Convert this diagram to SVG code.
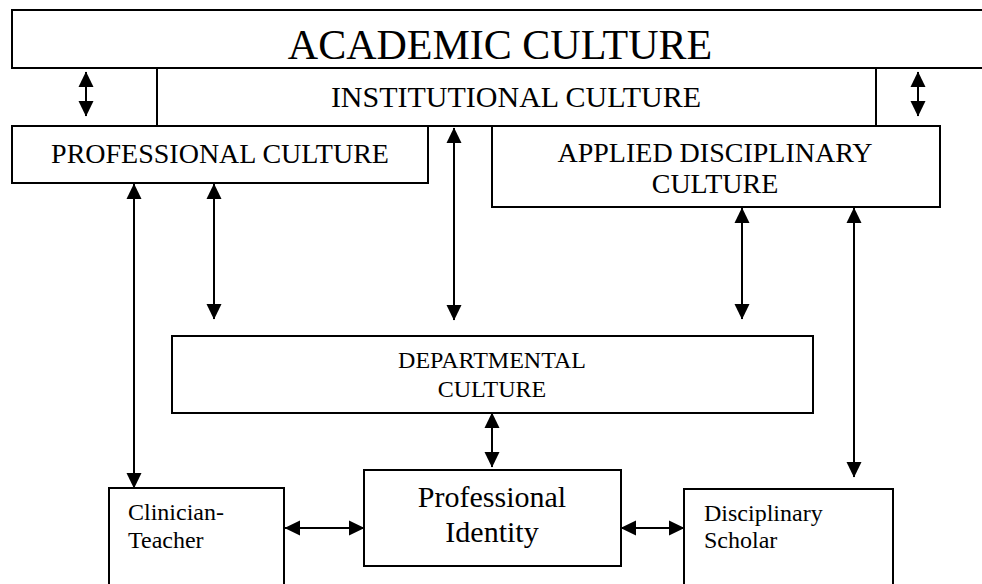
<svg xmlns="http://www.w3.org/2000/svg" width="982" height="584" viewBox="0 0 982 584">
<style>
.box{fill:#fff;stroke:#000;stroke-width:2}
.t{font-family:"Liberation Serif","Times New Roman",serif;fill:#000;text-anchor:middle}
.tl{font-family:"Liberation Serif","Times New Roman",serif;fill:#000}
.c{stroke:#000;stroke-width:2;fill:none;marker-start:url(#ah);marker-end:url(#ah)}
</style>
<defs>
<marker id="ah" markerUnits="userSpaceOnUse" markerWidth="16" markerHeight="16" viewBox="0 0 16 16" refX="15" refY="8" orient="auto-start-reverse">
<path d="M0,0.5 L15.5,8 L0,15.5 Z" fill="#000"/>
</marker>
</defs>
<rect width="982" height="584" fill="#fff"/>
<g id="academic">
<rect class="box" x="12" y="10" width="980" height="58"/>
<text class="t" x="500" y="59" font-size="42">ACADEMIC CULTURE</text>
</g>
<g id="institutional">
<rect class="box" x="157" y="68" width="719" height="58"/>
<text class="t" x="516" y="107" font-size="30">INSTITUTIONAL CULTURE</text>
</g>
<g id="professional">
<rect class="box" x="12" y="126" width="416" height="57"/>
<text class="t" x="220" y="163" font-size="28">PROFESSIONAL CULTURE</text>
</g>
<g id="applied">
<rect class="box" x="492" y="126" width="448" height="81"/>
<text class="t" x="715" y="162" font-size="28">APPLIED DISCIPLINARY</text>
<text class="t" x="715" y="193" font-size="28">CULTURE</text>
</g>
<g id="departmental">
<rect class="box" x="172" y="336" width="641" height="77"/>
<text class="t" x="492" y="368" font-size="24">DEPARTMENTAL</text>
<text class="t" x="492" y="397" font-size="24">CULTURE</text>
</g>
<g id="identity">
<rect class="box" x="364" y="470" width="257" height="96"/>
<text class="t" x="492" y="507" font-size="30">Professional</text>
<text class="t" x="492" y="542" font-size="30">Identity</text>
</g>
<g id="clinician">
<rect class="box" x="109" y="488" width="175" height="120"/>
<text class="tl" x="128" y="520" font-size="24">Clinician-</text>
<text class="tl" x="128" y="548" font-size="24">Teacher</text>
</g>
<g id="scholar">
<rect class="box" x="684" y="489" width="209" height="120"/>
<text class="tl" x="704" y="521" font-size="24">Disciplinary</text>
<text class="tl" x="704" y="548" font-size="24">Scholar</text>
</g>
<g id="connectors">
<line class="c" x1="86" y1="72" x2="86" y2="116"/>
<line class="c" x1="918" y1="72" x2="918" y2="116"/>
<line class="c" x1="134" y1="184" x2="134" y2="488"/>
<line class="c" x1="214" y1="184" x2="214" y2="319"/>
<line class="c" x1="454" y1="128" x2="454" y2="320"/>
<line class="c" x1="742" y1="208" x2="742" y2="319"/>
<line class="c" x1="854" y1="208" x2="854" y2="477"/>
<line class="c" x1="492" y1="413" x2="492" y2="467"/>
<line class="c" x1="285" y1="528" x2="364" y2="528"/>
<line class="c" x1="621" y1="528" x2="684" y2="528"/>
</g>
</svg>
